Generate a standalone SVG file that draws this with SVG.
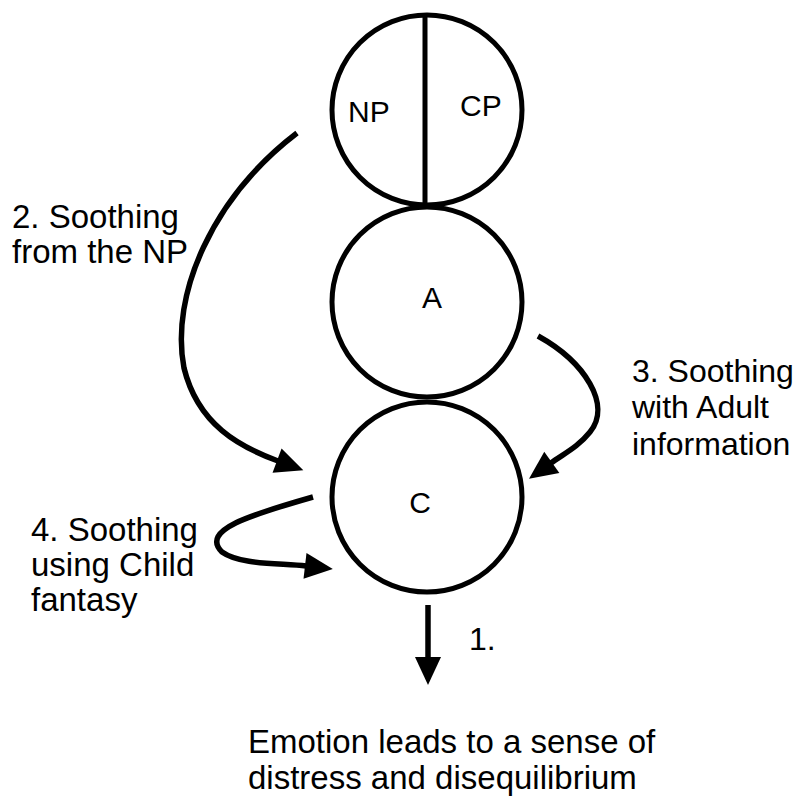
<svg xmlns="http://www.w3.org/2000/svg" width="797" height="796" viewBox="0 0 797 796">
  <style>
    .ring { fill: none; stroke: #000; stroke-width: 5; }
    .link { fill: none; stroke: #000; stroke-width: 5.5; stroke-linecap: butt; }
    text { font-family: "Liberation Sans", Arial, Helvetica, sans-serif; font-size: 33px; fill: #000; }
    .state { font-size: 30px; }
    .narrow { font-size: 32px; }
  </style>
  <defs>
    <marker id="head" markerUnits="userSpaceOnUse" markerWidth="32" markerHeight="28" refX="1" refY="13" orient="auto" overflow="visible">
      <path d="M0,0 L28,13 L0,26 Z" fill="#000"/>
    </marker>
  </defs>

  <!-- Parent ego state, split into Nurturing and Controlling halves -->
  <g id="parent">
    <circle class="ring" cx="427" cy="110" r="95"/>
    <line class="ring" x1="425" y1="14" x2="425" y2="203"/>
    <text class="state" x="348" y="122">NP</text>
    <text class="state" x="460" y="116">CP</text>
  </g>

  <!-- Adult ego state -->
  <g id="adult">
    <circle class="ring" cx="427" cy="302" r="95"/>
    <text class="state" x="432" y="308" text-anchor="middle">A</text>
  </g>

  <!-- Child ego state -->
  <g id="child">
    <circle class="ring" cx="427" cy="497" r="95"/>
    <text class="state" x="420" y="513" text-anchor="middle">C</text>
  </g>

  <!-- Arrows between ego states -->
  <g id="connectors">
    <path class="link" d="M297,133 C212,198 170,295 184,368 C198,425 240,447 278,461" marker-end="url(#head)"/>
    <path class="link" d="M538,336 C585,362 612,405 590,432 C578,447 565,453 551,463" marker-end="url(#head)"/>
    <path class="link" d="M313,497 C250,515 200,530 222,552 C240,565 280,563 306,566" marker-end="url(#head)"/>
    <path class="link" d="M428,605 L428,658" marker-end="url(#head)"/>
  </g>

  <!-- Captions -->
  <g id="labels">
    <text x="12" y="228">2. Soothing</text>
    <text x="12" y="263">from the NP</text>
    <text class="narrow" x="632" y="382">3. Soothing</text>
    <text class="narrow" x="632" y="418">with Adult</text>
    <text class="narrow" x="632" y="455">information</text>
    <text x="31" y="541">4. Soothing</text>
    <text x="31" y="576">using Child</text>
    <text x="31" y="611">fantasy</text>
    <text x="469" y="650" style="font-size:32px">1.</text>
    <text x="248" y="753">Emotion leads to a sense of</text>
    <text x="248" y="789">distress and disequilibrium</text>
  </g>
</svg>
